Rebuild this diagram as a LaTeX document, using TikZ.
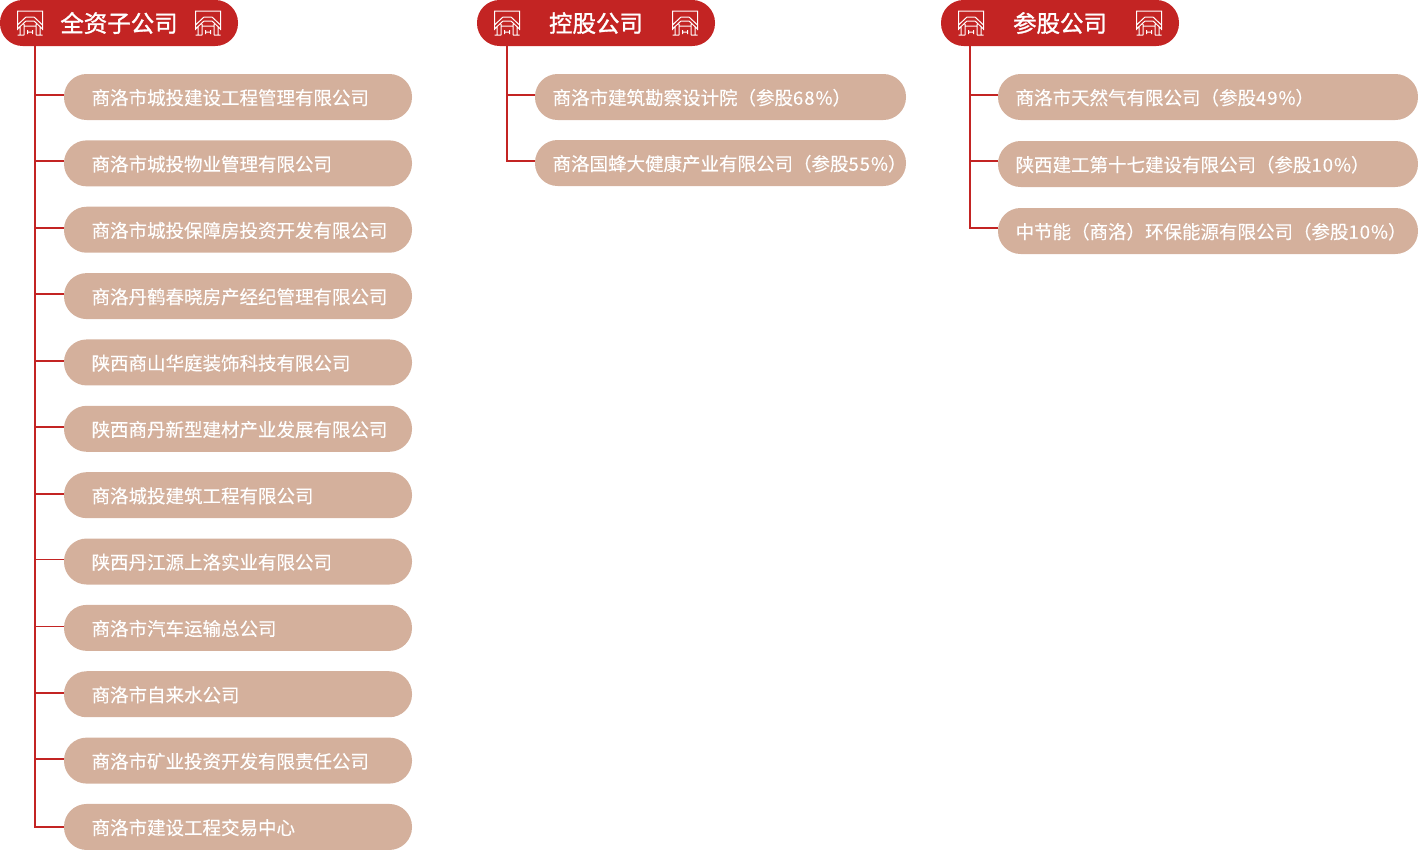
\documentclass[tikz,border=0pt]{standalone}
\usepackage{fontspec}
\setmainfont[FakeBold=0.25]{Noto Sans CJK SC}
\newfontfamily\headfont[FakeBold=1.3]{Noto Sans CJK SC}
\newfontfamily\numfont[FakeBold=0.25,LetterSpace=5.4]{Noto Sans CJK SC}
\newcommand{\stake}[1]{{\numfont #1\%}}
\usetikzlibrary{positioning}
\definecolor{headred}{HTML}{C32423}
\definecolor{pilltan}{HTML}{D4B09C}

\begin{document}
\begin{tikzpicture}[
    x=0.75pt,
    y=-0.75pt,
    outer sep=0pt,
    headbox/.style={
        rectangle,
        fill=headred,
        rounded corners=17pt,
        minimum width=178.5pt,
        minimum height=34.5pt,
        inner sep=0pt,
        text=white,
        text height=13.5pt,
        text depth=0pt,
        font=\fontsize{17.6pt}{20pt}\headfont
    },
    pillbox/.style={
        rectangle,
        fill=pilltan,
        rounded corners=17pt,
        minimum height=34.5pt,
        inner sep=0pt,
        text=white,
        align=left,
        text height=13pt,
        text depth=1.4pt,
        font=\fontsize{13.87pt}{16pt}\selectfont
    },
    pillone/.style={pillbox, text width=261pt, execute at begin node=\hspace*{20.7pt}},
    pilltwo/.style={pillbox, text width=278.25pt, execute at begin node=\hspace*{13.2pt}},
    pillthree/.style={pillbox, text width=315pt, execute at begin node=\hspace*{13.2pt}},
    branch/.style={draw=headred, line width=1.4pt},
    gate/.pic={
        \draw[white, line width=0.75pt]
            (-12.5,7) -- (-12.5,-12) -- (12.5,-12) -- (12.5,7)
            (-12.5,2) -- (-4,-6) -- (4,-6) -- (12.5,2)
            (-12.5,6) -- (-4,-2) -- (4,-2) -- (12.5,6)
            (-10,4) -- (-10,12) (-6,1) -- (-6,12)
            (10,4) -- (10,12) (6,1) -- (6,12)
            (-12.5,12) -- (-6,12) (6,12) -- (12.5,12)
            (-6,3) -- (6,3)
            (-2.5,7) -- (-2.5,11) (2.5,7) -- (2.5,11) (-2.5,9) -- (2.5,9);
    }
]

% Headers
\node[headbox] (whole) at (119,23) {全资子公司};
\node[headbox] (hold) at (596,23) {控股公司};
\node[headbox] (share) at (1060,23) {参股公司};

% Header icons
\pic at (30,23) {gate};
\pic at (208,23) {gate};
\pic at (507,23) {gate};
\pic at (685,23) {gate};
\pic at (971,23) {gate};
\pic at (1149,23) {gate};

% Wholly owned
\node[pillone, anchor=north west] (w1) at (64,74) {商洛市城投建设工程管理有限公司};
\node[pillone, below=15.27pt of w1] (w2) {商洛市城投物业管理有限公司};
\node[pillone, below=15.27pt of w2] (w3) {商洛市城投保障房投资开发有限公司};
\node[pillone, below=15.27pt of w3] (w4) {商洛丹鹤春晓房产经纪管理有限公司};
\node[pillone, below=15.27pt of w4] (w5) {陕西商山华庭装饰科技有限公司};
\node[pillone, below=15.27pt of w5] (w6) {陕西商丹新型建材产业发展有限公司};
\node[pillone, below=15.27pt of w6] (w7) {商洛城投建筑工程有限公司};
\node[pillone, below=15.27pt of w7] (w8) {陕西丹江源上洛实业有限公司};
\node[pillone, below=15.27pt of w8] (w9) {商洛市汽车运输总公司};
\node[pillone, below=15.27pt of w9] (w10) {商洛市自来水公司};
\node[pillone, below=15.27pt of w10] (w11) {商洛市矿业投资开发有限责任公司};
\node[pillone, below=15.27pt of w11] (w12) {商洛市建设工程交易中心};

% Holdings
\node[pilltwo, anchor=north west] (h1) at (535,74) {商洛市建筑勘察设计院（参股\stake{68}）};
\node[pilltwo, below=15pt of h1] (h2) {商洛国蜂大健康产业有限公司（参股\stake{55}）};

% Shares
\node[pillthree, anchor=north west] (s1) at (998,74) {商洛市天然气有限公司（参股\stake{49}）};
\node[pillthree, below=15.75pt of s1] (s2) {陕西建工第十七建设有限公司（参股\stake{10}）};
\node[pillthree, below=15.75pt of s2] (s3) {中节能（商洛）环保能源有限公司（参股\stake{10}）};

% Trunks
\coordinate (wtop) at (35,46);
\coordinate (htop) at (507,46);
\coordinate (stop) at (970,46);

% Arrows
\draw[branch] (wtop) |- ([yshift=1.5pt]w1.west);
\draw[branch] (wtop) |- ([yshift=1.5pt]w2.west);
\draw[branch] (wtop) |- ([yshift=1.5pt]w3.west);
\draw[branch] (wtop) |- ([yshift=1.5pt]w4.west);
\draw[branch] (wtop) |- ([yshift=1pt]w5.west);
\draw[branch] (wtop) |- ([yshift=1.5pt]w6.west);
\draw[branch] (wtop) |- ([yshift=1pt]w7.west);
\draw[branch] (wtop) |- ([yshift=1.5pt]w8.west);
\draw[branch] (wtop) |- ([yshift=1pt]w9.west);
\draw[branch] (wtop) |- ([yshift=1pt]w10.west);
\draw[branch] (wtop) |- ([yshift=1pt]w11.west);
\draw[branch] (wtop) |- (w12.west);
\draw[branch] (htop) |- ([yshift=1.5pt]h1.west);
\draw[branch] (htop) |- ([yshift=1.5pt]h2.west);
\draw[branch] (stop) |- ([yshift=1.5pt]s1.west);
\draw[branch] (stop) |- ([yshift=2pt]s2.west);
\draw[branch] (stop) |- ([yshift=2pt]s3.west);

\useasboundingbox (0,0) rectangle (1418,850);
\end{tikzpicture}
\end{document}
